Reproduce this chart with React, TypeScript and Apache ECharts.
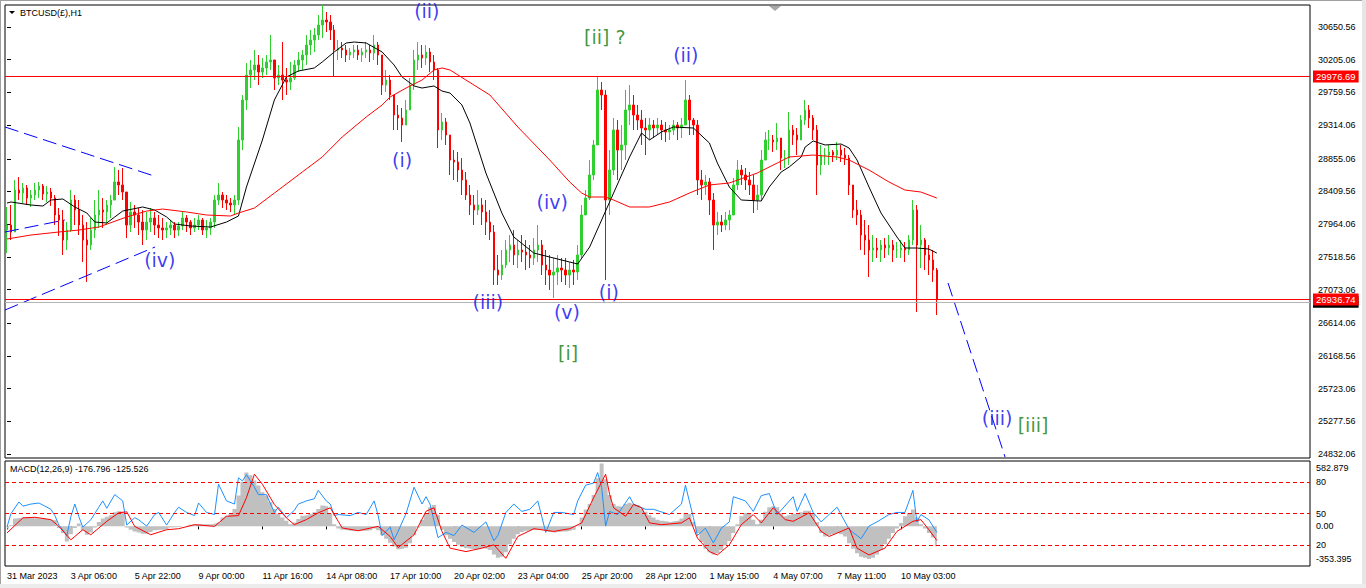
import React, { useEffect, useRef } from "react";
import * as echarts from "echarts";

const SLOTS = 327;
const AXIS_FONT = '"Liberation Sans", Arial, sans-serif';
const WAVE_FONT = '"DejaVu Sans", Verdana, sans-serif';

const xLabels = [
  "31 Mar 2023", "3 Apr 06:00", "5 Apr 22:00", "9 Apr 00:00", "11 Apr 16:00",
  "14 Apr 08:00", "17 Apr 10:00", "20 Apr 02:00", "23 Apr 04:00", "25 Apr 20:00",
  "28 Apr 12:00", "1 May 15:00", "4 May 07:00", "7 May 11:00", "10 May 03:00",
];
const priceTicks = [
  30650.56, 30205.06, 29759.56, 29314.06, 28855.06, 28409.56, 27964.06,
  27518.56, 27073.06, 26614.06, 26168.56, 25723.06, 25277.56, 24832.06,
];
const macdTicks = [582.879, 0, -353.395];
const oscLevels = [80, 50, 20];
const firstOpen = 27884;

const closes = [
  27952, 27857, 28429, 28388, 28457, 28320, 28361, 28429, 28484, 28375,
  28402, 28320, 28089, 28021, 27748, 27884, 28293, 28157, 27952, 27748,
  27680, 27884, 28089, 28157, 28130, 28225, 28293, 28539, 28498, 28402,
  27952, 28130, 28089, 27993, 27884, 27993, 28048, 27952, 27912, 27884,
  27912, 27952, 27884, 27939, 28048, 27993, 27912, 27952, 28021, 27884,
  27912, 27993, 28293, 28361, 28293, 28252, 28225, 28293, 29111, 29656,
  29996, 30065, 30133, 30037, 30092, 30174, 30201, 29956, 29996, 29928,
  29901, 29956, 30133, 30201, 30269, 30405, 30473, 30542, 30678, 30746,
  30719, 30610, 30337, 30364, 30337, 30269, 30310, 30337, 30269, 30310,
  30337, 30296, 30405, 30269, 29860, 29928, 29724, 29451, 29411, 29315,
  29520, 29860, 30201, 30269, 30228, 30310, 30174, 30065, 29247, 29356,
  29179, 28838, 28811, 28702, 28566, 28361, 28225, 28157, 28225, 28130,
  27993, 27857, 27339, 27271, 27407, 27612, 27680, 27544, 27612, 27584,
  27544, 27503, 27612, 27680, 27407, 27339, 27271, 27312, 27366, 27339,
  27271, 27339, 27312, 27544, 28089, 28320, 28634, 29043, 29792, 29724,
  28293, 28702, 29247, 28974, 29043, 29520, 29588, 29451, 29383, 29274,
  29247, 29315, 29274, 29315, 29247, 29220, 29247, 29315, 29274, 29315,
  29656, 29383, 29315, 28566, 28498, 28539, 28293, 27952, 27993, 27952,
  28021, 28089, 28498, 28702, 28634, 28566, 28498, 28293, 28361, 28838,
  29111, 29111, 29084, 29138, 28865, 28865, 29247, 29179, 29111, 29383,
  29520, 29411, 29247, 28770, 28906, 28906, 28947, 28906, 28974, 28906,
  28865, 28498, 28157, 28089, 27816, 27748, 27612, 27639, 27612, 27680,
  27639, 27680, 27612, 27612, 27639, 27612, 27748, 28157, 27680, 27748,
  27544, 27476, 27339, 26936.74,
];
const highs = [
  28198, 28225, 28566, 28606, 28525, 28498, 28429, 28525, 28539, 28511,
  28484, 28457, 28361, 28184, 28157, 27993, 28429, 28361, 28293, 28089,
  27993, 28048, 28293, 28429, 28320, 28293, 28361, 28743, 28702, 28729,
  28361, 28266, 28225, 28184, 28157, 28130, 28184, 28130, 28089, 28048,
  27993, 28021, 27993, 27993, 28130, 28089, 28021, 28048, 28089, 28048,
  28021, 28048, 28361, 28525, 28402, 28361, 28320, 28361, 29288, 29724,
  30160, 30201, 30337, 30269, 30228, 30269, 30542, 30160, 30133, 30446,
  30092, 30174, 30201, 30310, 30337, 30542, 30610, 30637, 30814, 30950,
  30855, 30814, 30678, 30473, 30446, 30405, 30364, 30405, 30405, 30364,
  30446, 30405, 30542, 30446, 30201, 30065, 29996, 29724, 29588, 29547,
  29656, 29956, 30337, 30446, 30405, 30405, 30364, 30269, 30092, 29479,
  29411, 29179, 28974, 28947, 28865, 28675, 28498, 28361, 28429, 28320,
  28293, 28157, 27952, 27544, 27612, 27748, 27816, 27884, 27748, 27816,
  27748, 27680, 27775, 27952, 27748, 27612, 27544, 27503, 27544, 27503,
  27503, 27448, 27476, 27680, 28225, 28429, 28838, 29111, 29969, 29901,
  29792, 28974, 29411, 29383, 29315, 29792, 29860, 29724, 29588, 29520,
  29411, 29411, 29383, 29411, 29383, 29356, 29315, 29383, 29356, 29411,
  29928, 29724, 29411, 29383, 28702, 28634, 28593, 28388, 28130, 28089,
  28130, 28157, 28593, 28838, 28770, 28729, 28675, 28634, 28498, 28974,
  29220, 29247, 29179, 29342, 29043, 28974, 29492, 29315, 29274, 29451,
  29656, 29588, 29451, 29315, 29043, 29002, 29043, 28974, 29084, 29043,
  29002, 28906, 28361, 28293, 28157, 28021, 27952, 27816, 27775, 27748,
  27775, 27816, 27748, 27721, 27748, 27721, 27816, 28293, 28225, 27952,
  27775, 27680, 27612, 27366,
];
const lows = [
  27571, 27748, 27857, 28293, 28252, 28225, 28198, 28293, 28320, 28293,
  28266, 28211, 27952, 27803, 27544, 27612, 27857, 27952, 27816, 27448,
  27176, 27612, 27775, 27912, 27912, 27952, 28048, 28293, 28361, 28293,
  27775, 27857, 27912, 27816, 27680, 27748, 27857, 27816, 27775, 27748,
  27775, 27816, 27775, 27803, 27884, 27857, 27816, 27857, 27884, 27816,
  27775, 27816, 27912, 28225, 28184, 28157, 28130, 28089, 28225, 28974,
  29520, 29819, 29928, 29860, 29956, 29996, 30065, 29792, 29860, 29656,
  29724, 29792, 29928, 30037, 30065, 30133, 30269, 30310, 30473, 30501,
  30583, 30473, 29969, 30201, 30228, 30174, 30201, 30228, 30201, 30174,
  30228, 30174, 30201, 30133, 29724, 29765, 29656, 29247, 29247, 29084,
  29315, 29520, 29792, 30065, 30092, 30133, 30037, 29928, 29002, 29111,
  29043, 28634, 28566, 28539, 28361, 28293, 28089, 27952, 28089, 27952,
  27816, 27748, 27135, 27135, 27203, 27366, 27448, 27407, 27366, 27448,
  27339, 27366, 27407, 27448, 27271, 27135, 27067, 26958, 27135, 27176,
  27135, 27094, 27135, 27203, 27503, 28089, 28293, 28566, 29043, 29520,
  27203, 28089, 28634, 28566, 28702, 28838, 29315, 29247, 29247, 29043,
  28906, 29111, 29138, 29179, 29111, 29084, 29111, 29179, 29111, 29138,
  29383, 29179, 29179, 28361, 28293, 28361, 28089, 27612, 27816, 27857,
  27884, 27884, 28089, 28429, 28498, 28429, 28361, 28116, 28157, 28293,
  28838, 28974, 28947, 28974, 28702, 28729, 28770, 29043, 28906, 29179,
  29315, 29274, 29111, 28361, 28634, 28770, 28770, 28811, 28838, 28811,
  28770, 28361, 28048, 27952, 27612, 27544, 27244, 27448, 27503, 27448,
  27503, 27544, 27448, 27503, 27503, 27448, 27544, 27680, 26767, 27366,
  27339, 27271, 27176, 26726,
];

const blackMA = [
  [0, 28252], [1, 28266], [6, 28225], [9, 28211], [11, 28293], [14, 28307], [17, 28198],
  [20, 28116], [22, 27993], [25, 27980], [27, 28062], [29, 28143], [34, 28198], [37, 28157],
  [40, 28062], [42, 27966], [46, 27939], [51, 27925], [55, 27993], [58, 28075], [60, 28470],
  [64, 29111], [67, 29656], [70, 29969], [73, 30051], [77, 30092], [79, 30174], [82, 30310],
  [85, 30433], [87, 30446], [90, 30433], [94, 30310], [97, 30133], [99, 29969], [102, 29847],
  [104, 29819], [107, 29847], [109, 29778], [111, 29751], [114, 29588], [116, 29342],
  [120, 28661], [124, 28116], [127, 27789], [132, 27571], [136, 27516], [141, 27448],
  [143, 27421], [146, 27653], [149, 28021], [152, 28388], [156, 28879], [159, 29206],
  [161, 29111], [164, 29220], [167, 29288], [172, 29274], [176, 29070], [178, 28797],
  [181, 28470], [184, 28293], [189, 28279], [191, 28470], [194, 28675], [196, 28743],
  [199, 28879], [200, 29015], [202, 29097], [205, 29043], [209, 29056], [211, 29002],
  [213, 28838], [216, 28470], [219, 28116], [223, 27789], [225, 27639], [228, 27639],
  [231, 27625], [233, 27570],
];
const redMA = [
  [0, 27762], [6, 27816], [13, 27857], [18, 27884], [23, 27925], [30, 28062], [35, 28143],
  [39, 28170], [45, 28130], [50, 28089], [56, 28075], [58, 28116], [62, 28184], [67, 28388],
  [74, 28675], [79, 28879], [84, 29152], [90, 29424], [94, 29588], [96, 29697], [100, 29819],
  [104, 29928], [107, 30065], [109, 30092], [111, 30065], [115, 29928], [121, 29724],
  [128, 29288], [136, 28838], [141, 28539], [144, 28388], [146, 28334], [150, 28334],
  [152, 28293], [156, 28198], [161, 28198], [166, 28266], [171, 28388], [176, 28498],
  [181, 28525], [188, 28661], [193, 28797], [196, 28879], [202, 28906], [208, 28879],
  [211, 28838], [216, 28702], [221, 28539], [225, 28429], [229, 28402], [233, 28320],
];

const macdHist = [
  -20, 10, 70, 75, 80, 78, 75, 72, 70, 70,
  65, 60, 55, -15, -60, -135, -70, -15, 25, -35,
  -75, -55, -10, 40, 70, 85, 100, 125, 135, 130,
  -10, -30, -45, -55, -65, -65, -50, -35, -30, -30,
  -25, -10, -8, -5, 0, 5, 15, 20, 22, 20,
  18, 20, 25, 35, 80, 95, 110, 155, 275, 395,
  480, 455, 410, 365, 305, 275, 215, 155, 110, 80,
  50, 20, 35, 65, 95, 100, 110, 125, 155, 185,
  180, 110, 20, -20, -30, -35, -38, -40, -42, -40,
  -38, -35, -20, -35, -80, -110, -145, -180, -205, -200,
  -190, -150, -80, -10, 60, 120, 170, 190, 100, -30,
  -80, -110, -140, -165, -185, -195, -200, -205, -200, -195,
  -200, -210, -250, -280, -270, -230, -160, -110, -70, -50,
  -40, -35, -30, -25, -30, -40, -50, -55, -50, -45,
  -45, -40, -30, 10, 80, 150, 200, 280, 430, 560,
  420, 280, 200, 180, 175, 200, 210, 200, 190, 160,
  130, 100, 80, 60, 50, 45, 40, 45, 50, 70,
  120, 110, 40, -60, -140, -200, -230, -250, -240, -210,
  -170, -130, -60, 20, 90, 120, 110, 60, 20, 60,
  130, 170, 180, 170, 120, 90, 100, 110, 115, 125,
  140, 140, 120, 40, -60, -90, -80, -70, -60, -70,
  -90, -150, -200, -240, -270, -280, -290, -280, -250, -210,
  -160, -110, -60, -20, 30, 90, 120, 150, 80, 20,
  -20, -60, -100, -176.796,
];
const macdSignal = [
  [0, -59], [4, 76], [7, 81], [11, 60], [13, 0], [16, -120], [19, -30], [21, -75], [25, 45],
  [28, 121], [30, 130], [32, 0], [36, -75], [40, -30], [43, -21], [47, 15], [52, 0], [55, 90],
  [58, 96], [60, 256], [62, 465], [64, 375], [67, 195], [70, 76], [72, 15], [75, 60], [78, 121],
  [81, 166], [83, 45], [84, -14], [88, -39], [93, 0], [96, -90], [98, -189], [102, -75],
  [105, 135], [107, 166], [109, -45], [111, -194], [115, -225], [119, -194], [122, -165],
  [125, -285], [128, -90], [132, -21], [137, -45], [141, -21], [144, 31], [147, 256],
  [150, 465], [151, 285], [152, 166], [155, 90], [157, 195], [159, 166], [161, 31], [164, 15],
  [169, 31], [171, 76], [173, -104], [176, -225], [178, -255], [181, -165], [184, 15],
  [187, 105], [189, 31], [192, 166], [195, 60], [197, 45], [201, 121], [204, -45], [206, -90],
  [209, -45], [211, -14], [213, -194], [216, -255], [220, -194], [223, -45], [227, 45],
  [229, 60], [231, -30], [233, -125.526],
];
const oscLine = [
  [0, 37], [1, 50], [3, 61], [4, 57], [6, 59], [8, 60], [11, 54], [12, 48], [13, 39], [15, 29],
  [16, 47], [17, 59], [18, 47], [19, 37], [21, 44], [23, 56], [24, 62], [25, 55], [27, 68],
  [28, 65], [29, 62], [30, 39], [32, 46], [33, 44], [35, 38], [37, 49], [38, 51], [40, 39],
  [42, 51], [43, 56], [45, 51], [47, 48], [48, 60], [50, 51], [52, 49], [53, 78], [55, 62],
  [57, 59], [58, 84], [59, 81], [60, 87], [62, 75], [63, 68], [65, 68], [67, 51], [68, 56],
  [70, 46], [72, 53], [73, 59], [75, 62], [77, 64], [78, 72], [80, 62], [81, 59], [82, 48],
  [83, 49], [86, 48], [88, 51], [90, 49], [92, 62], [93, 48], [94, 29], [96, 37], [97, 25],
  [98, 33], [100, 50], [102, 75], [104, 59], [105, 66], [106, 59], [108, 27], [110, 32],
  [112, 29], [114, 39], [117, 32], [120, 42], [122, 24], [123, 29], [125, 51], [127, 59],
  [129, 52], [131, 54], [133, 62], [135, 32], [137, 51], [139, 51], [142, 49], [143, 62],
  [145, 77], [147, 79], [148, 89], [149, 75], [150, 38], [151, 52], [153, 49], [156, 66],
  [157, 59], [160, 54], [162, 54], [166, 49], [169, 59], [170, 77], [172, 46], [173, 29],
  [175, 36], [177, 22], [179, 36], [181, 42], [182, 66], [185, 62], [187, 52], [189, 67],
  [191, 69], [193, 49], [197, 66], [198, 52], [200, 69], [202, 51], [204, 42], [206, 49],
  [208, 56], [211, 35], [213, 29], [214, 26], [216, 38], [218, 42], [221, 49], [223, 51],
  [225, 51], [227, 72], [228, 42], [229, 49], [231, 44], [233, 32],
];

const levelPrices = [29976.69, 26936.74];
const bidPrice = 26905.1;

const trendLines = [
  [[-0.5, 29288], [37.6, 28607]],
  [[-0.5, 26794], [37.1, 27653]],
  [[-0.5, 27857], [14.5, 28021]],
  [[235.8, 27162], [250.1, 24790]],
];

const waveText = ["(iv)", "(ii)", "(i)", "[ii] ?", "(ii)", "(iv)", "(iii)", "(v)", "(i)", "[i]", "(iii)", "[iii]"];
const waveTime = [38.3, 105.2, 99.0, 149.8, 170.1, 136.6, 120.5, 140.3, 150.8, 140.6, 248.1, 257.1];
const wavePrice = [27475, 30868, 28838, 30514, 30269, 28266, 26903, 26767, 27039, 26208, 25322, 25227];
const waveMinor = [false, false, false, true, false, false, false, false, false, true, false, true];

const BLUE = "#0a0aee";
const GREEN = "#0e7d0e";

export default function App() {
  const ref = useRef<HTMLDivElement>(null);
  useEffect(() => {
    if (!ref.current) return;
    const chart = echarts.init(ref.current, null, { renderer: "svg" });
    const cats = Array.from({ length: SLOTS }, (_, i) => String(i));
    const candles = closes.map((c, i) => {
      const o = i === 0 ? firstOpen : closes[i - 1];
      return [o, c, Math.min(lows[i], o, c), Math.max(highs[i], o, c)];
    });
    const labelInterval = (index: number) => index % 16 === 0 && index / 16 < xLabels.length;
    const axText = { color: "#000", fontSize: 9, fontFamily: AXIS_FONT };

    const option: any = {
      animation: false,
      backgroundColor: "#ffffff",
      textStyle: { fontFamily: AXIS_FONT },
      grid: [
        { left: 5, right: 56, top: 5, height: 453, show: true, borderColor: "#000", borderWidth: 1 },
        { left: 5, right: 56, top: 461, height: 105, show: true, borderColor: "#000", borderWidth: 1 },
      ],
      xAxis: [
        { type: "category", gridIndex: 0, data: cats, axisLine: { show: false }, axisTick: { show: false }, axisLabel: { show: false }, splitLine: { show: false } },
        { type: "value", gridIndex: 0, min: -0.5, max: SLOTS - 0.5, show: false },
        {
          type: "category", gridIndex: 1, data: cats,
          axisLine: { show: false },
          axisTick: { show: true, interval: labelInterval, alignWithLabel: true, length: 3, lineStyle: { color: "#000" } },
          axisLabel: { ...axText, interval: labelInterval, align: "left", margin: 5, formatter: (_v: string, i: number) => xLabels[i / 16] ?? "" },
          splitLine: { show: false },
        },
      ],
      yAxis: [
        {
          type: "value", gridIndex: 0, position: "right", min: 24777.6, max: 30950.4,
          axisLine: { show: false }, splitLine: { show: false },
          axisTick: { show: true, customValues: priceTicks, length: 4, lineStyle: { color: "#000" } },
          axisLabel: { ...axText, customValues: priceTicks, margin: 8, formatter: (v: number) => v.toFixed(2) },
        },
        {
          type: "value", gridIndex: 1, position: "right", min: -353.395, max: 582.879,
          axisLine: { show: false }, splitLine: { show: false }, axisTick: { show: false },
          axisLabel: {
            ...axText, customValues: macdTicks, margin: 6,
            formatter: (v: number) => (v > 1 ? `{t|${v.toFixed(3)}}` : v < -1 ? `{b|${v.toFixed(3)}}` : `{m|${v.toFixed(2)}}`),
            rich: {
              t: { ...axText, padding: [13, 0, 0, 0] },
              b: { ...axText, padding: [0, 0, 15, 0] },
              m: { ...axText },
            },
          },
        },
        {
          type: "value", gridIndex: 1, position: "right", min: 0, max: 100,
          axisLine: { show: false }, splitLine: { show: false }, axisTick: { show: false },
          axisLabel: { ...axText, customValues: oscLevels, margin: 6, formatter: (v: number) => String(v) },
        },
      ],
      series: [
        {
          type: "candlestick", xAxisIndex: 0, yAxisIndex: 0, data: candles, barWidth: 2,
          itemStyle: { color: "#2fcf2f", color0: "#ff0000", borderColor: "#2fcf2f", borderColor0: "#ff0000", borderWidth: 1 },
          markLine: {
            silent: true, symbol: ["none", "none"], animation: false,
            data: [
              { yAxis: bidPrice, lineStyle: { color: "#b4b4b4", type: "solid", width: 1 }, label: { backgroundColor: "#000", color: "#000" } },
              ...levelPrices.map((p) => ({ yAxis: p })),
            ],
            lineStyle: { color: "#ff0000", type: "solid", width: 1 },
            label: {
              show: true, position: "end", distance: 3, formatter: (p: any) => Number(p.value).toFixed(2),
              backgroundColor: "#ff0000", color: "#ffffff", fontSize: 9.5, fontFamily: AXIS_FONT, padding: [1, 3, 1, 3],
            },
          },
        },
        { type: "line", xAxisIndex: 0, yAxisIndex: 0, data: blackMA, symbol: "none", lineStyle: { color: "#000", width: 1 }, z: 3 },
        { type: "line", xAxisIndex: 0, yAxisIndex: 0, data: redMA, symbol: "none", lineStyle: { color: "#ff0000", width: 1 }, z: 3 },
        ...trendLines.map((d) => ({
          type: "line", xAxisIndex: 1, yAxisIndex: 0, data: d, symbol: "none",
          lineStyle: { color: "#0000ff", width: 1, type: [14, 6] }, z: 4,
        })),
        {
          type: "scatter", xAxisIndex: 1, yAxisIndex: 0, symbolSize: 0, clip: false, z: 5,
          data: waveText.map((t, i) => ({
            name: t, value: [waveTime[i], wavePrice[i]],
            label: { color: waveMinor[i] ? GREEN : BLUE },
          })),
          label: { show: true, position: "inside", formatter: "{b}", fontSize: 19, fontFamily: WAVE_FONT },
        },
        {
          type: "line", xAxisIndex: 2, yAxisIndex: 1, data: macdHist, symbol: "none", step: "middle", z: 1,
          lineStyle: { width: 0, color: "#c0c0c0" },
          areaStyle: { color: "#c0c0c0", opacity: 1, origin: 0 },
        },
        {
          type: "line", xAxisIndex: 2, yAxisIndex: 2, data: oscLine, symbol: "none", z: 3,
          lineStyle: { color: "#1e90ff", width: 1 },
          markLine: {
            silent: true, symbol: ["none", "none"], label: { show: false },
            lineStyle: { color: "#ff0000", type: [4, 3], width: 1 },
            data: oscLevels.map((v) => ({ yAxis: v })),
          },
        },
        { type: "line", xAxisIndex: 2, yAxisIndex: 1, data: macdSignal, symbol: "none", z: 4, lineStyle: { color: "#ff0000", width: 1 } },
      ],
      graphic: [
        { type: "rect", shape: { x: 1362, y: 0, width: 4, height: 588 }, style: { fill: "#e6e6e6" }, silent: true },
        { type: "rect", shape: { x: 0, y: 584, width: 1366, height: 4 }, style: { fill: "#ececec" }, silent: true },
        { type: "line", shape: { x1: 0.5, y1: 0, x2: 0.5, y2: 584 }, style: { stroke: "#a0a0a0", lineWidth: 1 }, silent: true },
        { type: "line", shape: { x1: 0, y1: 0.5, x2: 1362, y2: 0.5 }, style: { stroke: "#a0a0a0", lineWidth: 1 }, silent: true },
        { type: "polygon", shape: { points: [[9, 11], [15, 11], [12, 14]] }, style: { fill: "#000" }, silent: true },
        { type: "text", x: 20, y: 13, style: { text: "BTCUSD(£),H1", fill: "#000", font: `9px ${AXIS_FONT}`, verticalAlign: "middle" }, silent: true },
        { type: "polygon", shape: { points: [[769, 6], [781, 6], [775, 11]] }, style: { fill: "#a8a8a8" }, silent: true },
        { type: "text", x: 10, y: 469, style: { text: "MACD(12,26,9) -176.796 -125.526", fill: "#000", font: `9px ${AXIS_FONT}`, verticalAlign: "middle" }, silent: true },
      ],
    };
    chart.setOption(option);
    return () => chart.dispose();
  }, []);
  return <div ref={ref} style={{ position: "fixed", left: 0, top: 0, width: 1366, height: 588, background: "#fff" }} />;
}
